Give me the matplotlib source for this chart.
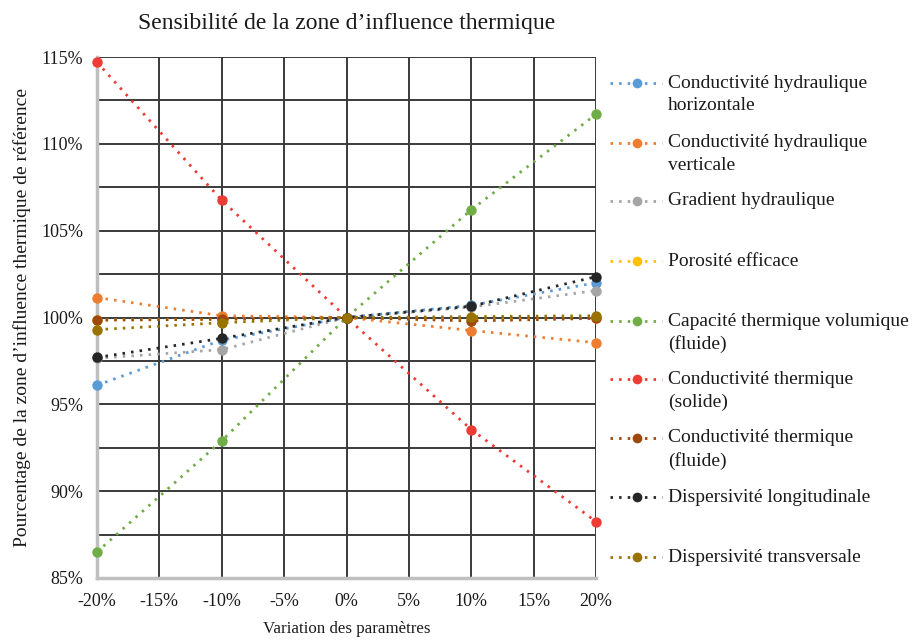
import matplotlib.pyplot as plt
from matplotlib.lines import Line2D
from matplotlib.ticker import MultipleLocator, FuncFormatter

plt.rcParams['font.family'] = ['Liberation Serif', 'DejaVu Serif']

# variation des parametres (%)
variation = [-20, -10, 0, 10, 20]

# pourcentage de la zone d'influence de reference (%)
k_horiz = [96.1, 98.7, 100.0, 100.7, 102.0]
k_vert = [101.15, 100.1, 100.0, 99.25, 98.55]
gradient = [97.65, 98.15, 100.0, 100.6, 101.55]
porosite = [99.85, 99.9, 100.0, 99.85, 99.95]
capacite = [86.5, 92.9, 100.0, 106.2, 111.7]
cond_solide = [114.7, 106.75, 100.0, 93.55, 88.25]
cond_fluide = [99.85, 99.9, 100.0, 99.8, 99.95]
disp_long = [97.7, 98.8, 100.0, 100.65, 102.35]
disp_trans = [99.3, 99.7, 100.0, 100.05, 100.1]

labels = [
    "Conductivité hydraulique\nhorizontale",
    "Conductivité hydraulique\nverticale",
    "Gradient hydraulique",
    "Porosité efficace",
    "Capacité thermique volumique\n(fluide)",
    "Conductivité thermique\n(solide)",
    "Conductivité thermique\n(fluide)",
    "Dispersivité longitudinale",
    "Dispersivité transversale",
]
series = [k_horiz, k_vert, gradient, porosite, capacite,
          cond_solide, cond_fluide, disp_long, disp_trans]
colors = ["#5B9BD5", "#ED7D31", "#A5A5A5", "#FFC000", "#70AD47",
          "#EE3B33", "#9E480E", "#262626", "#997300"]

W, H = 917, 641
fig = plt.figure(figsize=(W / 100, H / 100), dpi=100)
ax = fig.add_axes([97 / W, 1 - 578 / H, (596 - 97) / W, (578 - 57) / H])

dots = (0, (0.9, 2.2))
for vals, c in zip(series, colors):
    ax.plot(variation, vals, color=c, linestyle=dots, linewidth=2.0,
            marker='o', markersize=7.5, markeredgewidth=0, zorder=3,
            clip_on=False)

ax.set_xlim(-20, 20)
ax.set_ylim(85, 115)
ax.xaxis.set_major_locator(MultipleLocator(5))
ax.yaxis.set_major_locator(MultipleLocator(5))
ax.yaxis.set_minor_locator(MultipleLocator(2.5))
pct = FuncFormatter(lambda v, p: f"{v:.0f}%")
ax.xaxis.set_major_formatter(pct)
ax.yaxis.set_major_formatter(pct)
ax.tick_params(which='both', length=0, labelsize=13, colors='#1a1a1a')
ax.tick_params(axis='x', pad=11)
ax.tick_params(axis='y', pad=10)

ax.grid(True, which='both', color='#3a3a3a', linewidth=1.4, zorder=1)
ax.set_axisbelow(True)
for side in ['top', 'right']:
    ax.spines[side].set_visible(False)
for side in ['left', 'bottom']:
    ax.spines[side].set_color('#BFBFBF')
    ax.spines[side].set_linewidth(2.5)
    ax.spines[side].set_zorder(2)

ax.set_title("Sensibilité de la zone d’influence thermique", fontsize=17,
             pad=20, color='#1a1a1a')
ax.set_xlabel("Variation des paramètres", fontsize=12.2, labelpad=8,
              color='#1a1a1a')
ax.set_ylabel("Pourcentage de la zone d’influence thermique de référence",
              fontsize=14, labelpad=7, color='#1a1a1a')

# legende a droite, style Excel
legend_y = [83, 143, 201, 261, 321, 379, 438, 497, 557]
for lab, c, y in zip(labels, colors, legend_y):
    fy = 1 - y / H
    fig.add_artist(Line2D([610 / W, 637 / W, 662 / W], [fy, fy, fy],
                          transform=fig.transFigure, color=c,
                          linestyle=dots, linewidth=2.0, marker='o',
                          markersize=7, markeredgewidth=0, markevery=[1]))
    for i, part in enumerate(lab.split("\n")):
        fig.text(668 / W, 1 - (y + i * 23) / H, part, fontsize=14,
                 va='center', ha='left', color='#1a1a1a')

fig.savefig("out.png", dpi=100)
